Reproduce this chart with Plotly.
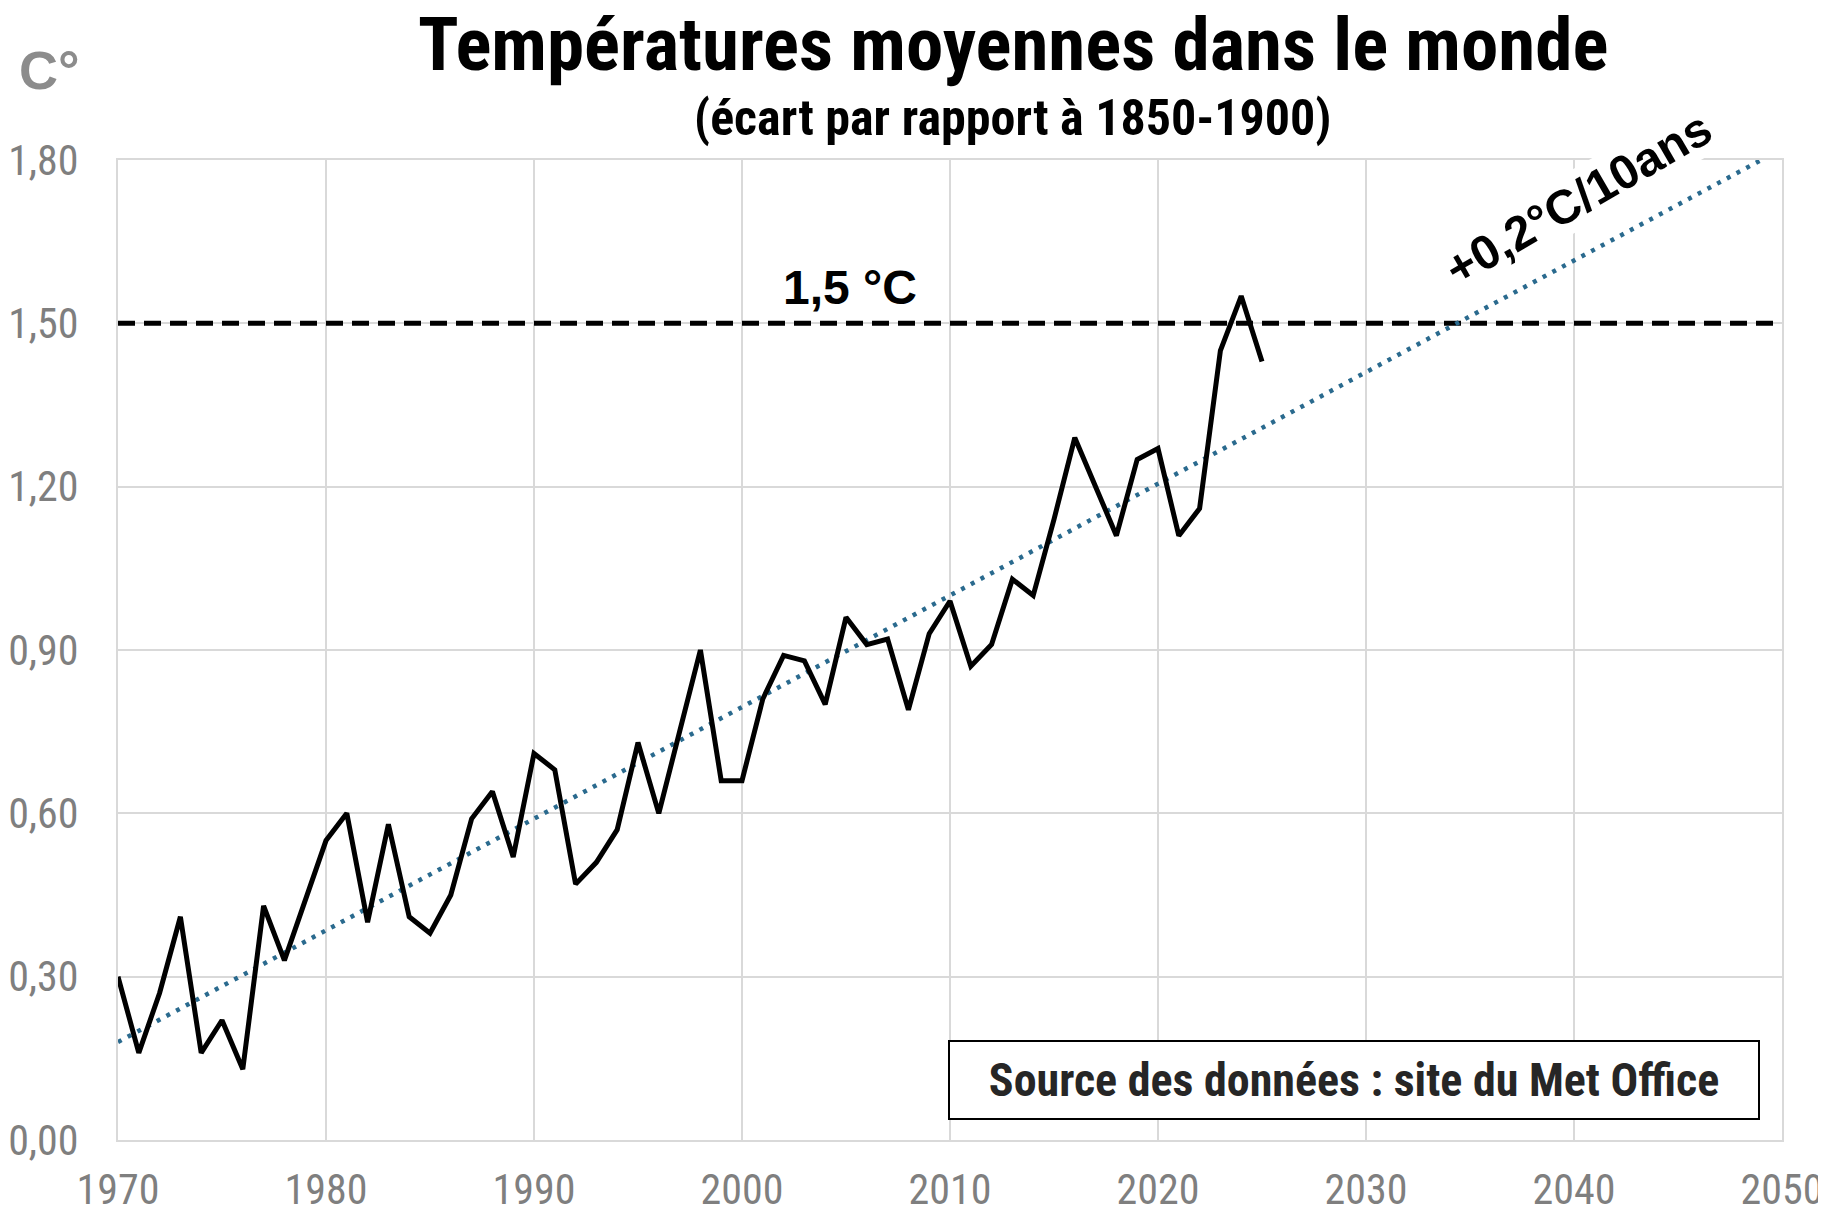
import plotly.graph_objects as go

years = list(range(1970, 2026))
temps = [0.30, 0.16, 0.27, 0.41, 0.16, 0.22, 0.13, 0.43, 0.33, 0.44,
         0.55, 0.60, 0.40, 0.58, 0.41, 0.38, 0.45, 0.59, 0.64, 0.52,
         0.71, 0.68, 0.47, 0.51, 0.57, 0.73, 0.60, 0.75, 0.90, 0.66,
         0.66, 0.81, 0.89, 0.88, 0.80, 0.96, 0.91, 0.92, 0.79, 0.93,
         0.99, 0.87, 0.91, 1.03, 1.00, 1.14, 1.29, 1.20, 1.11, 1.25,
         1.27, 1.11, 1.16, 1.45, 1.55, 1.43]

trend_years = [1970, 2049]
trend_temps = [0.18, 1.80]

limit_years = [1970, 2050]
limit_temps = [1.5, 1.5]

x_ticks = [1970, 1980, 1990, 2000, 2010, 2020, 2030, 2040, 2050]
y_ticks = [0.0, 0.3, 0.6, 0.9, 1.2, 1.5, 1.8]

narrow = "Liberation Sans Narrow, Arial Narrow, Roboto Condensed, sans-serif"
arial = "Liberation Sans, Arial, sans-serif"
grid = "#d9d9d9"

fig = go.Figure()

fig.add_trace(go.Scatter(x=limit_years, y=limit_temps, mode="lines",
                         line=dict(color="black", width=5, dash="17px,9px"),
                         hoverinfo="skip"))
fig.add_trace(go.Scatter(x=trend_years, y=trend_temps, mode="lines",
                         line=dict(color="#2a6a8e", width=4.5, dash="4px,7px"),
                         hoverinfo="skip"))
fig.add_trace(go.Scatter(x=years, y=temps, mode="lines",
                         line=dict(color="black", width=5)))

fig.update_xaxes(range=[1970, 2050], tickvals=x_ticks, showgrid=True, gridcolor=grid, gridwidth=2,
                 showline=True, linecolor=grid, linewidth=2, mirror=True, zeroline=False,
                 ticks="", ticklabelstandoff=12, automargin=False,
                 tickfont=dict(family=narrow, size=42, color="#7f7f7f"))
fig.update_yaxes(range=[0, 1.8], tickvals=y_ticks, tickformat=".2f", showgrid=True, gridcolor=grid,
                 gridwidth=2, showline=True, linecolor=grid, linewidth=2, mirror=True, zeroline=False,
                 ticks="", ticklabelstandoff=29, automargin=False,
                 tickfont=dict(family=narrow, size=42, color="#7f7f7f"))

fig.add_annotation(text="Températures moyennes dans le monde", xref="paper", yref="paper",
                   x=0.538, y=1.118, xanchor="center", yanchor="middle", showarrow=False,
                   font=dict(family=narrow, size=75, color="black", weight="bold"))
fig.add_annotation(text="(écart par rapport à 1850-1900)", xref="paper", yref="paper",
                   x=0.538, y=1.043, xanchor="center", yanchor="middle", showarrow=False,
                   font=dict(family=narrow, size=50, color="black", weight="bold"))
fig.add_annotation(text="C°", xref="paper", yref="paper", x=-0.041, y=1.092,
                   xanchor="center", yanchor="middle", showarrow=False,
                   font=dict(family=arial, size=54, color="#8c8c8c", weight="bold"))
fig.add_annotation(text="1,5 °C", x=2005.2, y=1.565, xanchor="center", yanchor="middle",
                   showarrow=False,
                   font=dict(family=arial, size=48, color="black", weight="bold"))
fig.add_annotation(text="+0,2°C/10ans", x=2040.2, y=1.73, showarrow=False, textangle=-30,
                   xanchor="center", yanchor="middle", bgcolor="white",
                   font=dict(family=arial, size=48, color="black", weight="bold"))
fig.add_annotation(text="Source des données : site du Met Office", xref="paper", yref="paper",
                   x=0.743, y=0.061, xanchor="center", yanchor="middle", showarrow=False,
                   width=806, height=74, bordercolor="black", borderwidth=2, bgcolor="white",
                   font=dict(family=narrow, size=46, color="#262626", weight="bold"))

# the page body adds an 8px margin, so the figure is 8px smaller on each side
fig.update_layout(width=1818, height=1203, showlegend=False, separators=", ",
                  plot_bgcolor="white", paper_bgcolor="white",
                  margin=dict(l=110, r=44, t=152, b=71))

fig.write_html("out.html")
